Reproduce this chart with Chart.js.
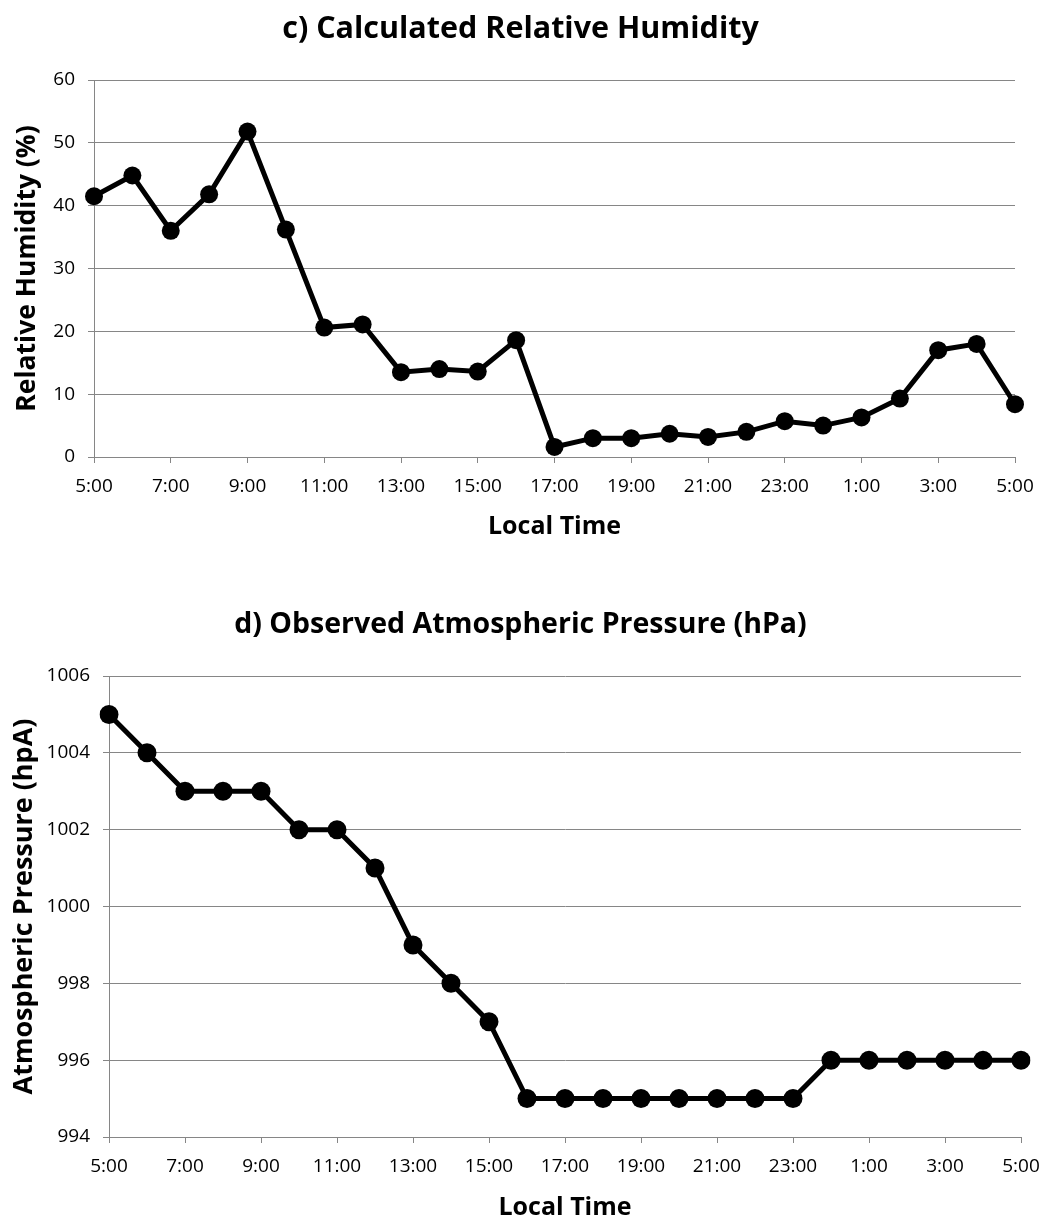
<!DOCTYPE html>
<html>
<head>
<meta charset="utf-8">
<script src="https://cdn.jsdelivr.net/npm/chart.js@4/dist/chart.umd.min.js"></script>
<style>
  html, body { margin: 0; padding: 0; background: #fff; }
  body { width: 1041px; height: 1220px; position: relative; overflow: hidden; }
  .panel { position: absolute; left: 0; width: 1041px; }
  #panelC { top: 0; height: 560px; }
  #panelD { top: 580px; height: 640px; }
</style>
</head>
<body>
<div class="panel" id="panelC"><canvas id="rhChart" width="1041" height="560"></canvas></div>
<div class="panel" id="panelD"><canvas id="pChart" width="1041" height="640"></canvas></div>
<script>
// Hourly observation times, 5:00 through 5:00 the next morning
const times = ['5:00','6:00','7:00','8:00','9:00','10:00','11:00','12:00','13:00','14:00',
  '15:00','16:00','17:00','18:00','19:00','20:00','21:00','22:00','23:00','0:00',
  '1:00','2:00','3:00','4:00','5:00'];

// c) calculated relative humidity (%)
const relativeHumidity = [41.5, 44.8, 36.0, 41.8, 51.8, 36.2, 20.6, 21.1, 13.5, 14.0,
  13.6, 18.6, 1.6, 3.0, 3.0, 3.7, 3.2, 4.0, 5.7, 5.0,
  6.3, 9.3, 17.0, 18.0, 8.4];

// d) observed atmospheric pressure (hPa)
const pressure = [1005, 1004, 1003, 1003, 1003, 1002, 1002, 1001, 999, 998,
  997, 995, 995, 995, 995, 995, 995, 995, 995, 996,
  996, 996, 996, 996, 996];

const rhTicks = [0, 10, 20, 30, 40, 50, 60];
const pressureTicks = [994, 996, 998, 1000, 1002, 1004, 1006];

const FONT = "'Open Sans', 'DejaVu Sans', sans-serif";
const AXIS_GRAY = '#868686';

function buildChart(canvasId, cfg) {
  const ctx = document.getElementById(canvasId);
  return new Chart(ctx, {
    type: 'line',
    data: {
      labels: times,
      datasets: [{
        data: cfg.values,
        borderColor: '#000',
        backgroundColor: '#000',
        borderWidth: 5,
        pointRadius: cfg.pointRadius,
        pointBackgroundColor: '#000',
        pointBorderColor: '#000',
        pointBorderWidth: 0,
        tension: 0,
        fill: false
      }]
    },
    options: {
      responsive: false,
      animation: false,
      devicePixelRatio: 1,
      layout: { padding: 0 },
      plugins: {
        legend: { display: false },
        tooltip: { enabled: false },
        title: {
          display: true,
          text: cfg.title,
          color: '#000',
          font: { family: FONT, size: cfg.titleSize, weight: 'bold', lineHeight: 1.2 },
          padding: cfg.titlePad
        }
      },
      scales: {
        x: {
          type: 'category',
          offset: false,
          afterFit: (scale) => {
            scale.height = cfg.xHeight;
            // fixed side margins of the plot area (the title stays centred on the canvas)
            scale.paddingLeft = 0;
            scale.paddingRight = cfg.rightPad;
          },
          grid: {
            drawOnChartArea: false,
            drawTicks: true,
            tickLength: 6,
            color: AXIS_GRAY,
            lineWidth: 1
          },
          border: { display: true, color: AXIS_GRAY, width: 1 },
          ticks: {
            autoSkip: false,
            maxRotation: 0,
            padding: 12,
            color: '#000',
            font: { family: FONT, size: 19 },
            // label every second hour; odd hours get neither label nor tick mark
            callback: function (value, index) {
              return index % 2 === 0 ? this.getLabelForValue(value) : null;
            }
          },
          title: {
            display: true,
            text: 'Local Time',
            color: '#000',
            font: { family: FONT, size: 25, weight: 'bold', lineHeight: 1.2 },
            padding: { top: 0, bottom: cfg.xTitlePad }
          }
        },
        y: {
          min: cfg.yTicks[0],
          max: cfg.yTicks[cfg.yTicks.length - 1],
          afterFit: (scale) => { scale.width = cfg.yWidth; },
          afterBuildTicks: (scale) => { scale.ticks = cfg.yTicks.map(v => ({ value: v })); },
          grid: {
            drawOnChartArea: true,
            drawTicks: true,
            tickLength: 6,
            color: AXIS_GRAY,
            lineWidth: 1
          },
          border: { display: true, color: AXIS_GRAY, width: 1 },
          ticks: {
            padding: 13,
            color: '#000',
            font: { family: FONT, size: 19 },
            callback: (value) => String(value)
          },
          title: {
            display: true,
            text: cfg.yTitle,
            color: '#000',
            font: { family: FONT, size: cfg.yTitleSize, weight: 'bold', lineHeight: 1.2 },
            padding: { top: cfg.yTitlePad, bottom: 0 }
          }
        }
      }
    }
  });
}

buildChart('rhChart', {
  values: relativeHumidity,
  yTicks: rhTicks,
  title: 'c) Calculated Relative Humidity',
  titleSize: 30.5,
  yTitle: 'Relative Humidity (%)',
  yTitleSize: 26.5,
  pointRadius: 9,
  rightPad: 26,
  yWidth: 94,
  xHeight: 103,
  titlePad: { top: 10.7, bottom: 32.7 },
  xTitlePad: 18,
  yTitlePad: 12
});

buildChart('pChart', {
  values: pressure,
  yTicks: pressureTicks,
  title: 'd) Observed Atmospheric Pressure (hPa)',
  titleSize: 28.5,
  yTitle: 'Atmospheric Pressure (hpA)',
  yTitleSize: 27,
  pointRadius: 9.5,
  rightPad: 20,
  yWidth: 109,
  xHeight: 83,
  titlePad: { top: 27.9, bottom: 33.9 },
  xTitlePad: -3,
  yTitlePad: 8
});
</script>
</body>
</html>
